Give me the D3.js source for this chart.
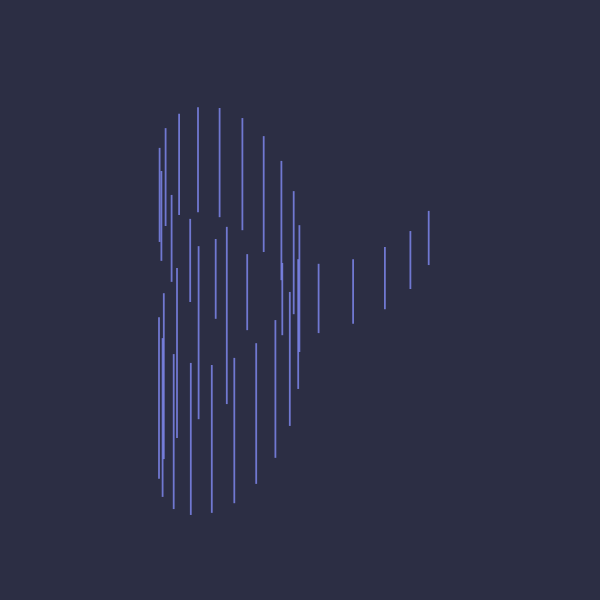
<!DOCTYPE html>
<html>
<head>
<meta charset="utf-8">
<script src="https://cdn.jsdelivr.net/npm/d3@7"></script>
<style>
  html, body { margin: 0; padding: 0; background: #2c2e44; }
</style>
</head>
<body>
<div id="chart"></div>
<script>
// position of each range bar along x
const positions = [3.2, 3.8, 5.2, 7.2, 9.7, 13.4, 16, 16.2, 21.9, 23.2, 25.6, 30.8, 32.4, 37.9,
  43.8, 44.1, 47.9, 49.8, 49.4, 46.6, 41.8, 4.6, 3, 4.2, 9, 7.9, 13.6, 20.6, 28.1, 35.4,
  56.2, 67.7, 78.3, 86.8, 92.9];
// top of each range
const highs = [88.6, 83.1, 93.3, 77.4, 96.7, 71.7, 98.3, 65.2, 66.9, 98.1, 69.8, 95.7, 63.3, 91.4,
  85.5, 61.2, 78.3, 70.2, 62.1, 54.3, 47.6, 54, 48.3, 43.3, 60, 39.5, 37.4, 36.9, 38.6, 42.1,
  61, 62.1, 65, 68.8, 73.6];
// bottom of each range
const lows = [66.2, 61.7, 70, 56.7, 72.6, 51.9, 73.3, 24, 47.9, 72.1, 27.6, 69, 45.2, 63.8,
  57.1, 44, 49, 40, 31.2, 22.4, 14.8, 14.5, 9.8, 5.5, 19.5, 2.6, 1.2, 1.7, 4, 8.6,
  44.5, 46.7, 50.2, 55, 60.7];

const width = 600, height = 600;

const rows = positions.map((p, i) => ({ x: p, hi: highs[i], lo: lows[i] }));

const x = d3.scaleLinear().domain([0, 100]).range([150, 450]);
const y = d3.scaleLinear().domain([0, 100]).range([520, 100]);

const svg = d3.select("#chart").append("svg")
  .attr("width", width)
  .attr("height", height);

svg.append("rect")
  .attr("width", width)
  .attr("height", height)
  .attr("fill", "#2c2e44");

svg.selectAll("line.bar")
  .data(rows)
  .enter()
  .append("line")
  .attr("class", "bar")
  .attr("x1", d => x(d.x))
  .attr("x2", d => x(d.x))
  .attr("y1", d => y(d.hi))
  .attr("y2", d => y(d.lo))
  .attr("stroke", "#7c85ea")
  .attr("stroke-opacity", 0.85)
  .attr("stroke-width", 1.8);
</script>
</body>
</html>
